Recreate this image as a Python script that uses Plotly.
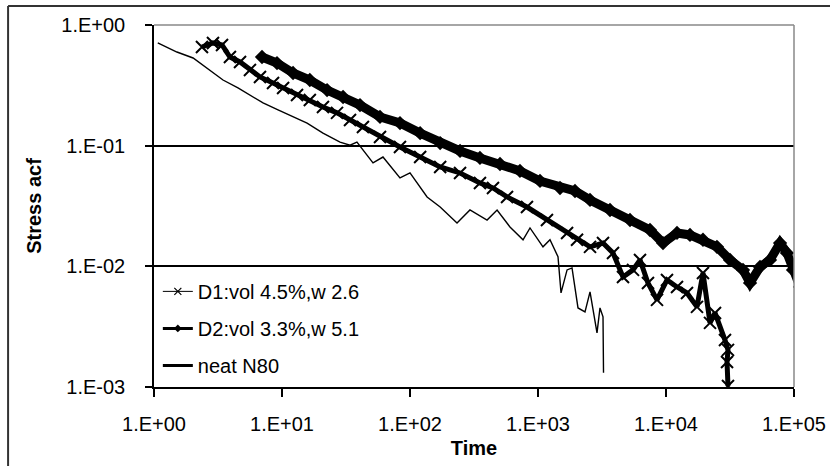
import plotly.graph_objects as go

# ---- data ----
neat_t = [1.07, 1.51, 2.02, 2.74, 3.46, 4.53, 5.62, 7.11, 9.31, 12.2,
          15.7, 20.9, 28.4, 34.0, 38.5, 51.4, 61.5, 83.5, 100, 136,
          172, 233, 294, 400, 479, 604, 764, 866, 1094, 1241,
          1433, 1513, 1687, 1844, 2054, 2329, 2549, 2891, 3050, 3220, 3250]
neat_v = [0.710, 0.597, 0.533, 0.424, 0.350, 0.301, 0.263, 0.226, 0.198, 0.173,
          0.154, 0.127, 0.107, 0.101, 0.107, 0.072, 0.0805, 0.054, 0.0594, 0.0376,
          0.0310, 0.0229, 0.0293, 0.0242, 0.0293, 0.0212, 0.0166, 0.0208, 0.0145, 0.0166,
          0.0120, 0.00602, 0.00934, 0.0097, 0.00452, 0.00419, 0.00614, 0.00281, 0.00452, 0.00381, 0.00131]

d1_t = [2.37, 2.89, 3.40, 3.92, 4.70, 5.62, 6.73, 8.51, 10.2, 13.1,
        16.5, 20.9, 26.9, 34.0, 42.9, 58.3, 83.5, 120, 172, 246,
        352, 445, 573, 820, 1175, 1687, 2018, 2549, 3220, 3855,
        4614, 5526, 6266, 7230, 8506, 10180, 12190, 14590, 17460, 19450,
        22070, 24150, 28900, 30500, 29970, 30500]
d1_v = [0.657, 0.710, 0.683, 0.543, 0.494, 0.424, 0.371, 0.331, 0.301, 0.263,
        0.239, 0.209, 0.187, 0.163, 0.143, 0.118, 0.0975, 0.0805, 0.0666, 0.0594,
        0.0491, 0.0446, 0.0376, 0.0310, 0.0242, 0.0189, 0.0166, 0.0145, 0.0156, 0.0129,
        0.00817, 0.00934, 0.0113, 0.00728, 0.00527, 0.00771, 0.00675, 0.00602, 0.00461, 0.00881,
        0.00340, 0.00411, 0.00245, 0.00203, 0.00161, 0.00102]

d2_t = [6.98, 9.14, 12.2, 16.5, 22.5, 30.0, 40.7, 58.3, 83.5, 120,
        172, 246, 352, 505, 723, 1037, 1486, 1945, 2549, 3652,
        5231, 7500, 9480, 12190, 15400, 19450, 25010, 31620, 39970, 45340,
        54240, 64940, 77800, 88100, 98200, 111400]
d2_v = [0.543, 0.484, 0.400, 0.350, 0.289, 0.253, 0.217, 0.173, 0.154, 0.127,
        0.105, 0.0904, 0.0791, 0.0705, 0.0617, 0.0510, 0.0446, 0.0421, 0.0355, 0.0293,
        0.0242, 0.0200, 0.0156, 0.0189, 0.0182, 0.0166, 0.0145, 0.0113, 0.00934, 0.00728,
        0.00989, 0.0113, 0.0156, 0.0129, 0.00934, 0.00675]

x_tickvals = [1, 10, 100, 1000, 10000, 100000]
x_ticktext = ["1.E+00", "1.E+01", "1.E+02", "1.E+03", "1.E+04", "1.E+05"]
y_tickvals = [0.001, 0.01, 0.1, 1]
y_ticktext = ["1.E-03", "1.E-02", "1.E-01", "1.E+00"]

names = ["D1:vol 4.5%,w 2.6", "D2:vol 3.3%,w 5.1", "neat N80"]

FONT = "Liberation Sans, Arial, sans-serif"

fig = go.Figure()

# data traces (legend drawn by separate legend-only entries)
fig.add_trace(go.Scatter(x=d1_t, y=d1_v, mode="lines+markers", showlegend=False,
                         line=dict(color="black", width=5),
                         marker=dict(symbol="x-thin", size=12, line=dict(color="black", width=2))))
fig.add_trace(go.Scatter(x=d2_t, y=d2_v, mode="lines+markers", showlegend=False,
                         line=dict(color="black", width=9),
                         marker=dict(symbol="diamond", size=11, color="black")))
fig.add_trace(go.Scatter(x=neat_t, y=neat_v, mode="lines", showlegend=False,
                         line=dict(color="black", width=1.4)))

# legend entries
fig.add_trace(go.Scatter(x=[None], y=[None], mode="lines+markers", name=names[0], legendgroup="a",
                         line=dict(color="black", width=1),
                         marker=dict(symbol="x-thin", size=7, line=dict(color="black", width=1.2))))
fig.add_trace(go.Scatter(x=[None], y=[None], mode="lines+markers", name=names[1], legendgroup="b",
                         line=dict(color="black", width=3),
                         marker=dict(symbol="diamond", size=6, color="black")))
fig.add_trace(go.Scatter(x=[None], y=[None], mode="lines", name=names[2], legendgroup="c",
                         line=dict(color="black", width=3)))

fig.update_layout(
    width=830, height=466,
    margin=dict(l=154, r=36, t=25, b=79, autoexpand=False),
    paper_bgcolor="white", plot_bgcolor="white",
    font=dict(family=FONT, size=20, color="black"),
    showlegend=True,
    legend=dict(x=0.006, y=0.318, xanchor="left", yanchor="top",
                bgcolor="rgba(0,0,0,0)", borderwidth=0,
                font=dict(family=FONT, size=20, color="black"),
                traceorder="grouped", tracegroupgap=8, itemwidth=30),
    xaxis=dict(type="log", range=[0, 5], tickvals=x_tickvals, ticktext=x_ticktext,
               automargin=False,
               showgrid=False, zeroline=False, showline=True, linecolor="black", linewidth=1.5,
               ticks="outside", ticklen=8, tickwidth=1.5, tickcolor="black",
               ticklabelstandoff=10,
               title=dict(text="<b>Time</b>", font=dict(family=FONT, size=20), standoff=7)),
    yaxis=dict(type="log", range=[-3, 0], tickvals=y_tickvals, ticktext=y_ticktext,
               automargin=False,
               showgrid=True, gridcolor="black", gridwidth=1.5, zeroline=False,
               showline=True, linecolor="black", linewidth=1.5,
               ticks="outside", ticklen=7, tickwidth=1.5, tickcolor="black",
               ticklabelstandoff=16,
               title=dict(text="<b>Stress acf</b>", font=dict(family=FONT, size=20), standoff=14)),
    shapes=[
        # top and right frame of plot area (gray)
        dict(type="line", xref="paper", yref="paper", x0=0, x1=1, y0=1, y1=1,
             line=dict(color="#888888", width=1.5)),
        dict(type="line", xref="paper", yref="paper", x0=1, x1=1, y0=0, y1=1,
             line=dict(color="#888888", width=1.5)),
        # outer chart border (only left and top edges visible in the picture)
        dict(type="line", xref="paper", yref="paper", x0=-0.228, x1=1.06, y0=1.0525, y1=1.0525,
             line=dict(color="#333333", width=2), layer="above"),
        dict(type="line", xref="paper", yref="paper", x0=-0.228, x1=-0.228, y0=-0.22, y1=1.0525,
             line=dict(color="#333333", width=2), layer="above"),
    ],
)

fig.write_html("out.html", config={"displayModeBar": False},
               post_script="document.body.style.margin='0';document.body.style.overflow='hidden';")
